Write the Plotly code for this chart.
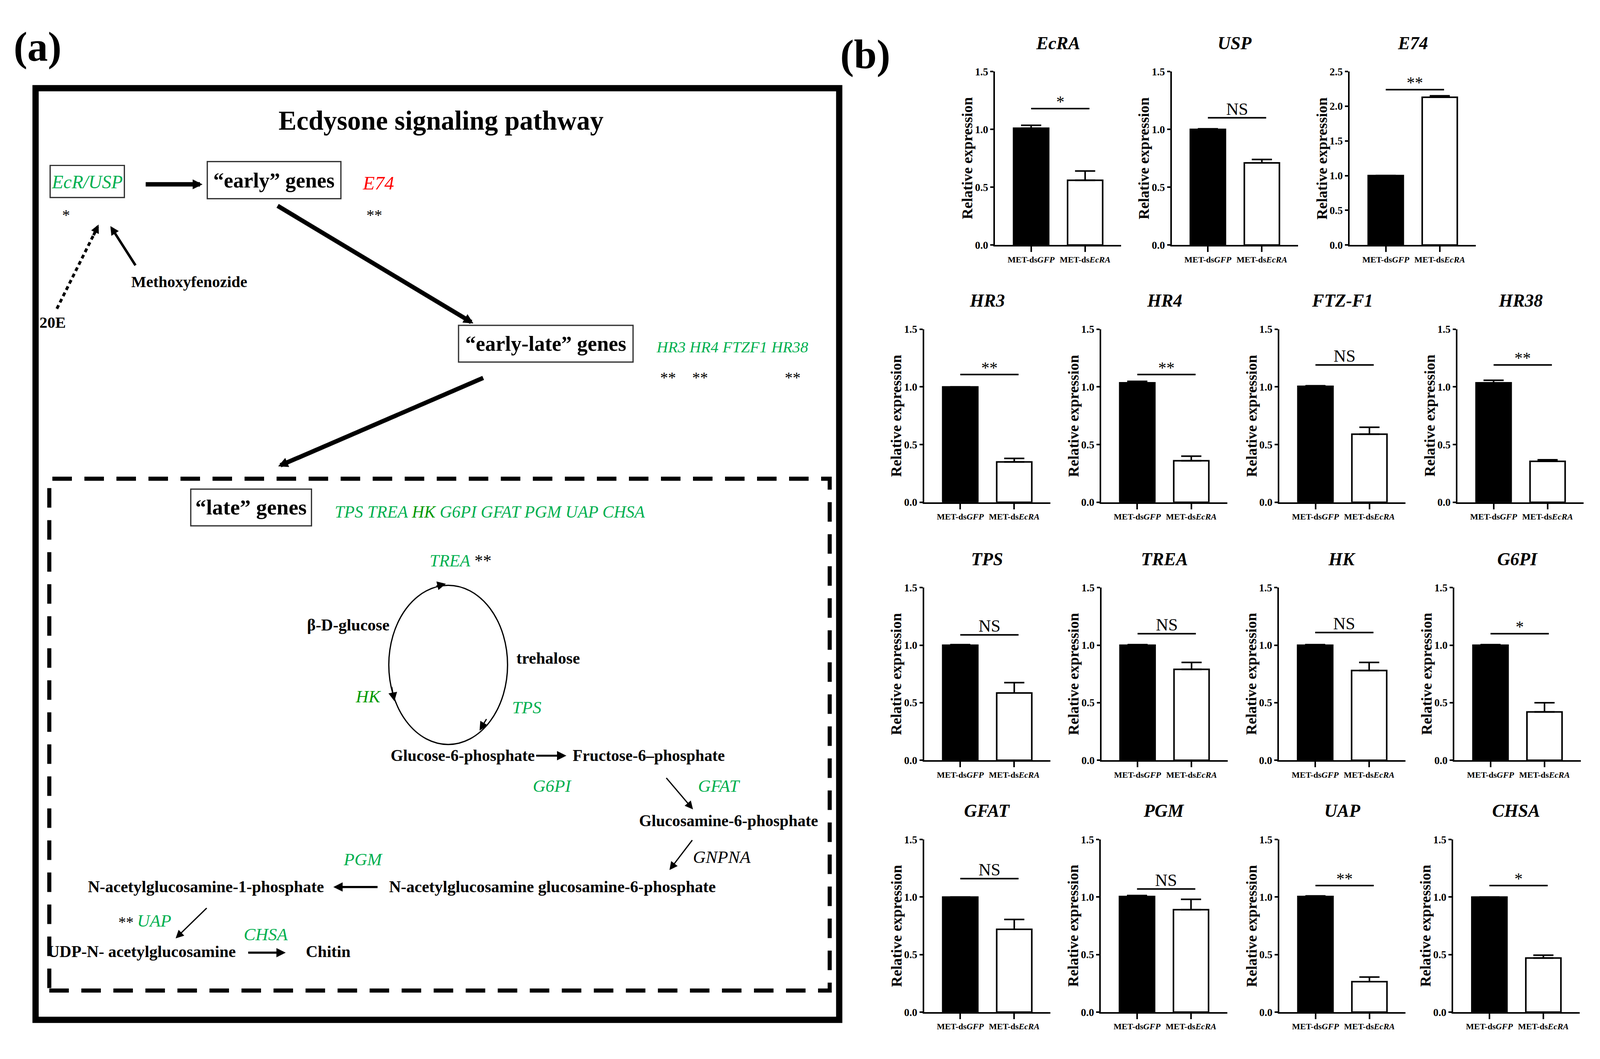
import plotly.graph_objects as go

# The browser viewport is 4096 x 2711 CSS px (dpr 1) with the default 8 px
# body margin; reference positions (5712 x 2711 px) are mapped onto it.
REF_W, REF_H = 5712, 2711
VIEW_W, VIEW_H = 4096, 2711
M = 8
FW, FH = VIEW_W - 2 * M, VIEW_H - 2 * M
SX = VIEW_W / REF_W
FS = 0.75      # font scale
LW = 0.8       # line-width scale
FONT = "Liberation Serif"
GREEN = "#00B050"
DKGREEN = "#009A00"

# ---------------- data (panel b) ----------------
genes = ["EcRA", "USP", "E74", "HR3", "HR4", "FTZ-F1", "HR38",
         "TPS", "TREA", "HK", "G6PI", "GFAT", "PGM", "UAP", "CHSA"]
categories = ["MET-ds<i>GFP</i>", "MET-ds<i>EcRA</i>"]
gfp_mean = [1.01, 1.00, 1.00, 1.00, 1.035, 1.005, 1.035,
            1.00, 1.00, 1.00, 1.00, 1.00, 1.005, 1.005, 1.00]
gfp_err = [0.025, 0.005, 0.0, 0.0, 0.013, 0.005, 0.022,
           0.005, 0.005, 0.005, 0.005, 0.0, 0.008, 0.005, 0.0]
ecra_mean = [0.56, 0.71, 2.13, 0.35, 0.36, 0.59, 0.355,
             0.585, 0.79, 0.78, 0.42, 0.72, 0.89, 0.265, 0.47]
ecra_err = [0.08, 0.03, 0.02, 0.03, 0.04, 0.06, 0.013,
            0.09, 0.06, 0.07, 0.08, 0.085, 0.09, 0.04, 0.025]
sig_label = ["*", "NS", "**", "**", "**", "NS", "**",
             "NS", "NS", "NS", "*", "NS", "NS", "**", "*"]
sig_height = [1.18, 1.10, 2.24, 1.107, 1.107, 1.19, 1.19,
              1.09, 1.10, 1.11, 1.10, 1.16, 1.07, 1.10, 1.10]
y_max = [1.5, 1.5, 2.5, 1.5, 1.5, 1.5, 1.5,
         1.5, 1.5, 1.5, 1.5, 1.5, 1.5, 1.5, 1.5]
y_ticks = [0.0, 0.5, 1.0, 1.5, 2.0, 2.5]

# ---------------- layout (reference-pixel positions) ----------------
rows_y = [(170, 619), (837, 1285), (1506, 1953), (2158, 2605)]
row_cols = [[3552, 4183, 4818], [3299, 3931, 4567, 5203],
            [3299, 3932, 4566, 5192], [3299, 3930, 4567, 5188]]
AX_W = 451


def px(x):
    return (x * SX - M) / FW


def py(y):
    return 1 - (y - M) / FH


def fs(v):
    return v * FS


def lw(v):
    return v * LW


fig = go.Figure()
ann = []
shapes = []

slots = []
for r, cols in enumerate(row_cols):
    for c in cols:
        slots.append((r, c))

for k, g in enumerate(genes):
    r, x0 = slots[k]
    ytop, ybot = rows_y[r]
    x1 = x0 + AX_W
    xs = "x" if k == 0 else f"x{k+1}"
    ys = "y" if k == 0 else f"y{k+1}"
    xa = "xaxis" if k == 0 else f"xaxis{k+1}"
    ya = "yaxis" if k == 0 else f"yaxis{k+1}"
    fig.add_trace(go.Bar(
        x=categories, y=[gfp_mean[k], ecra_mean[k]],
        width=0.65,
        marker=dict(color=["black", "white"], line=dict(color="black", width=lw(5))),
        error_y=dict(type="data", symmetric=False,
                     array=[gfp_err[k], ecra_err[k]], arrayminus=[0, 0],
                     color="black", thickness=lw(5), width=36 * SX),
        xaxis=xs, yaxis=ys, showlegend=False, hoverinfo="skip"))
    tv = [t for t in y_ticks if t <= y_max[k] + 1e-9]
    fig.layout[xa] = dict(domain=[px(x0), px(x1)], anchor=ys, type="category",
                          range=[-0.67, 1.67], showline=True, linewidth=lw(5),
                          linecolor="black", ticks="outside", ticklen=14,
                          tickwidth=lw(5), tickcolor="black", showgrid=False,
                          zeroline=False, fixedrange=True,
                          tickfont=dict(family=FONT, size=22, color="black",
                                        weight="bold"))
    fig.layout[ya] = dict(domain=[py(ybot), py(ytop)], anchor=xs,
                          range=[0, y_max[k]], tickvals=tv,
                          ticktext=[f"{t:.1f}" for t in tv],
                          showline=True, linewidth=lw(5), linecolor="black",
                          ticks="outside", ticklen=8, tickwidth=lw(5),
                          tickcolor="black", showgrid=False, zeroline=False,
                          fixedrange=True,
                          tickfont=dict(family=FONT, size=27, color="black",
                                        weight="bold"))
    ann.append(dict(x=px((x0 + x1) / 2), y=py(ytop - 74), xref="paper", yref="paper",
                    text=f"<b><i>{g}</i></b>", showarrow=False,
                    font=dict(family=FONT, size=46, color="black"),
                    xanchor="center", yanchor="middle"))
    ann.append(dict(x=px(x0 - 99), y=py((ytop + ybot) / 2), xref="paper", yref="paper",
                    text="<b>Relative expression</b>", textangle=-90, showarrow=False,
                    font=dict(family=FONT, size=38, color="black"),
                    xanchor="center", yanchor="middle"))
    shapes.append(dict(type="line", xref=xs, yref=ys, x0=0.0, x1=1.08,
                       y0=sig_height[k], y1=sig_height[k],
                       line=dict(color="black", width=lw(5))))
    lab = sig_label[k]
    ann.append(dict(x=0.54, y=sig_height[k], xref=xs, yref=ys, text=lab,
                    showarrow=False, xanchor="center", yanchor="bottom",
                    yshift=(-4 if lab == "NS" else -8),
                    font=dict(family=FONT, size=(44 if lab == "NS" else 42),
                              color="black")))


# ---------------- panel (a) diagram ----------------
def T(x, y, text, size, color="black", bold=False, italic=False, xanchor="center"):
    if italic:
        text = f"<i>{text}</i>"
    if bold:
        text = f"<b>{text}</b>"
    ann.append(dict(x=px(x), y=py(y), xref="paper", yref="paper", text=text,
                    showarrow=False, xanchor=xanchor, yanchor="middle",
                    font=dict(family=FONT, size=fs(size), color=color)))


def A(x0, y0, x1, y1, width, size):
    ann.append(dict(x=px(x1), y=py(y1), xref="paper", yref="paper",
                    ax=(x0 - x1) * SX, ay=(y0 - y1), axref="pixel", ayref="pixel",
                    text="", showarrow=True, arrowhead=2, arrowsize=size,
                    arrowwidth=lw(width), arrowcolor="black", standoff=0))


def R(x0, y0, x1, y1, width, color="black", dash=None):
    line = dict(color=color, width=lw(width))
    if dash:
        line["dash"] = dash
    shapes.append(dict(type="rect", xref="paper", yref="paper",
                       x0=px(x0), x1=px(x1), y0=py(y1), y1=py(y0), line=line))


T(134, 106, "(a)", 140, bold=True)
T(3089, 126, "(b)", 140, bold=True)

R(127, 213, 2996, 2625, 20)
R(176, 1224, 2962, 2549, 13, dash="50px,32px")

T(1575, 297, "Ecdysone signaling pathway", 92, bold=True)

R(179, 413, 444, 496, 4, color="#333333")
T(311, 455, "EcR/USP", 64, color=GREEN, italic=True)
A(518, 462, 723, 462, 14, 0.45)
R(740, 403, 1217, 499, 4, color="#333333")
T(978, 452, "“early” genes", 72, bold=True)
T(1350, 459, "E74", 66, color="#FF0000", italic=True)
T(235, 541, "*", 54)
T(1337, 541, "**", 54)

shapes.append(dict(type="line", xref="paper", yref="paper",
                   x0=px(203), y0=py(784), x1=px(339), y1=py(586),
                   line=dict(color="black", width=lw(9), dash="10px,8px")))
A(333, 595, 352, 566, 9, 0.6)
A(485, 672, 394, 570, 8, 0.7)
T(675, 714, "Methoxyfenozide", 54, bold=True)
T(188, 820, "20E", 54, bold=True)

A(989, 520, 1690, 822, 14, 0.45)
R(1637, 827, 2260, 922, 4, color="#333333")
T(1948, 875, "“early-late” genes", 72, bold=True)
T(2340, 883, "HR3 HR4 FTZF1 HR38", 54, color=GREEN, italic=True, xanchor="left")
T(2386, 962, "**", 54)
T(2500, 962, "**", 54)
T(2830, 962, "**", 54)

A(1727, 965, 993, 1192, 14, 0.45)
R(681, 1251, 1112, 1346, 4, color="#333333")
T(896, 1298, "“late” genes", 74, bold=True)
T(1193, 1309, "TPS TREA <span style='color:%s'>HK</span> G6PI GFAT PGM UAP CHSA" % DKGREEN,
  58, color=GREEN, italic=True, xanchor="left")

shapes.append(dict(type="circle", xref="paper", yref="paper",
                   x0=px(1388), x1=px(1812), y0=py(1912), y1=py(1500),
                   line=dict(color="black", width=lw(4))))
A(1556, 1502, 1592, 1496, 4, 1.4)
A(1738, 1845, 1712, 1876, 4, 1.4)
A(1398, 1762, 1408, 1800, 4, 1.4)
T(1531, 1436, "<i>TREA</i> <span style='color:black'>**</span>", 58, color=GREEN,
  xanchor="left")
T(1243, 1603, "β-D-glucose", 56, bold=True)
T(1957, 1689, "trehalose", 56, bold=True)
T(1314, 1788, "HK", 60, color=DKGREEN, italic=True)
T(1880, 1816, "TPS", 60, color=GREEN, italic=True)

T(1652, 1941, "Glucose-6-phosphate", 55, bold=True)
A(1912, 1941, 2022, 1941, 6, 1.0)
T(2317, 1941, "Fructose-6–phosphate", 55, bold=True)
T(1971, 2019, "G6PI", 60, color=GREEN, italic=True)
A(2377, 1998, 2474, 2080, 4, 1.3)
T(2567, 2019, "GFAT", 60, color=GREEN, italic=True)
T(2279, 2109, "Glucosamine-6-phosphate", 55, bold=True, xanchor="left")
A(2473, 2159, 2390, 2237, 4, 1.3)
T(2577, 2203, "GNPNA", 60, italic=True)
T(1296, 2210, "PGM", 60, color=GREEN, italic=True)
T(735, 2280, "N-acetylglucosamine-1-phosphate", 56, bold=True)
A(1350, 2281, 1190, 2281, 7, 0.85)
T(1972, 2280, "N-acetylglucosamine glucosamine-6-phosphate", 56, bold=True)
A(740, 2335, 627, 2414, 4, 1.3)
T(450, 2372, "**", 52)
T(550, 2368, "UAP", 60, color=GREEN, italic=True)
T(949, 2404, "CHSA", 60, color=GREEN, italic=True)
T(506, 2448, "UDP-N- acetylglucosamine", 56, bold=True)
A(884, 2451, 1020, 2451, 7, 0.85)
T(1171, 2448, "Chitin", 56, bold=True)

fig.update_layout(width=FW, height=FH, margin=dict(l=0, r=0, t=0, b=0),
                  paper_bgcolor="white", plot_bgcolor="white",
                  annotations=ann, shapes=shapes, showlegend=False,
                  font=dict(family=FONT, color="black"))
fig.write_html("out.html")
